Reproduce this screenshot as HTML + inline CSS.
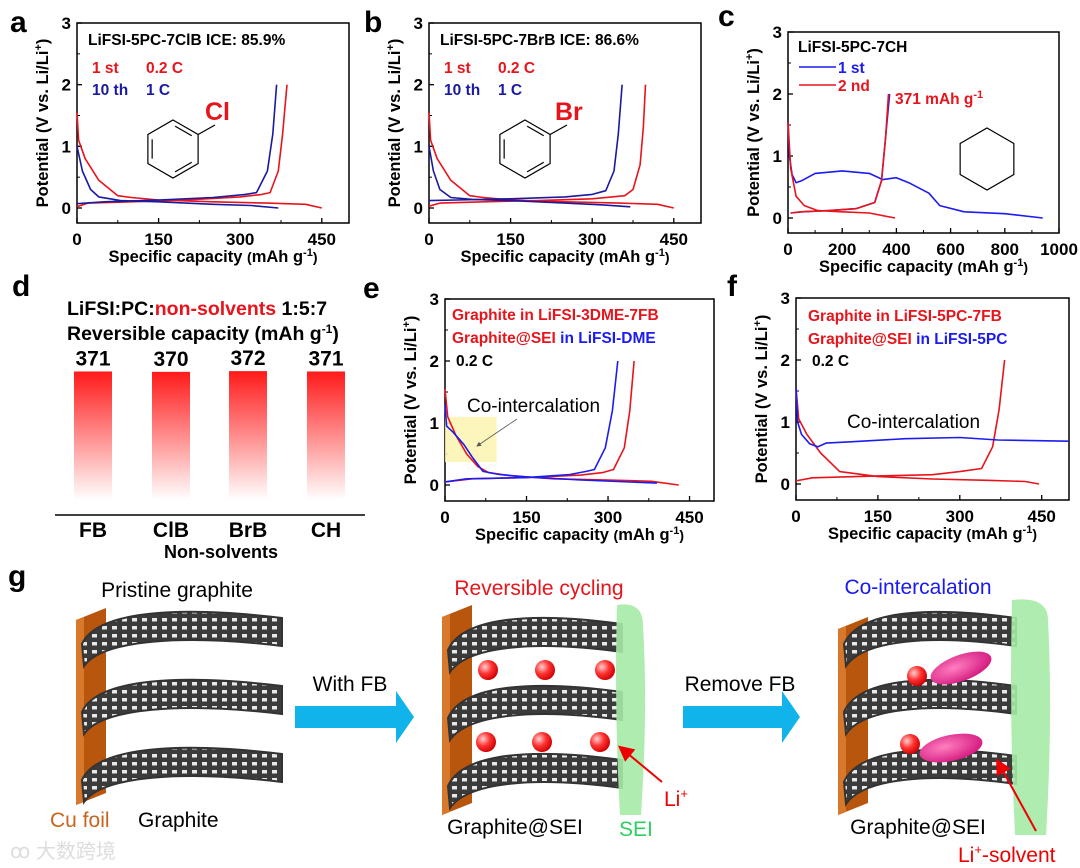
<!DOCTYPE html>
<html><head><meta charset="utf-8">
<style>
html,body{margin:0;padding:0;background:#fff;}
svg{display:block;font-family:"Liberation Sans","Noto Sans CJK SC",sans-serif;}
.tk{font-size:17px;font-weight:bold;fill:#000;}
.al{font-size:16.5px;font-weight:bold;fill:#000;}
.lg{font-size:15.5px;font-weight:bold;}
.pl{font-size:30px;font-weight:bold;fill:#000;}
.gt{font-family:"Liberation Sans Narrow","Liberation Sans",sans-serif;font-size:21px;}
</style></head>
<body>
<svg id="fig" width="1080" height="868" viewBox="0 0 1080 868" xmlns="http://www.w3.org/2000/svg">
<defs>
<pattern id="hex" width="10" height="8" patternUnits="userSpaceOnUse">
<rect width="10" height="8" fill="#3b3b3b"/>
<rect x="2" y="2" width="5" height="3.5" fill="#e8e8e8"/>
</pattern>
<linearGradient id="barg" x1="0" y1="0" x2="0" y2="1">
<stop offset="0" stop-color="#ff1a1a"/><stop offset="1" stop-color="#ffffff"/>
</linearGradient>
<radialGradient id="ball" cx="0.35" cy="0.35" r="0.7">
<stop offset="0" stop-color="#ffd0d0"/><stop offset="0.5" stop-color="#f33"/><stop offset="1" stop-color="#c00"/>
</radialGradient>
<radialGradient id="pink" cx="0.4" cy="0.4" r="0.7">
<stop offset="0" stop-color="#ff7fc0"/><stop offset="1" stop-color="#d0107a"/>
</radialGradient>
<marker id="ah" markerWidth="8" markerHeight="8" refX="6" refY="4" orient="auto"><path d="M0,0 L8,4 L0,8 Z" fill="#e00"/></marker>
<marker id="ahg" markerWidth="6" markerHeight="6" refX="5" refY="3" orient="auto"><path d="M0,0 L6,3 L0,6 Z" fill="#555"/></marker>
</defs>
<g id="plots"></g>
<g id="schem"></g>
</svg>
<script>
// ---- data: panel a ----
const aRedDisX=[0,3,15,40,75,100,150,250,350,420,450];
const aRedDisY=[1.55,1.1,0.8,0.45,0.2,0.17,0.13,0.1,0.08,0.06,0.0];
const aRedChX=[0,20,100,200,300,340,355,370,378,386];
const aRedChY=[0.02,0.08,0.1,0.13,0.18,0.22,0.25,0.6,1.2,2.0];
const aBluDisX=[0,10,25,40,80,150,250,320,370];
const aBluDisY=[1.0,0.6,0.3,0.18,0.12,0.1,0.06,0.04,0.0];
const aBluChX=[0,50,150,250,310,330,350,360,367];
const aBluChY=[0.07,0.1,0.13,0.17,0.22,0.25,0.6,1.2,2.0];
// ---- panel b ----
const bRedDisX=[0,3,15,40,75,100,150,250,350,420,450];
const bRedDisY=[1.55,1.1,0.8,0.45,0.2,0.17,0.13,0.1,0.08,0.06,0.0];
const bRedChX=[0,20,100,200,300,360,375,388,394,398];
const bRedChY=[0.03,0.08,0.1,0.12,0.15,0.2,0.3,0.7,1.3,2.0];
const bBluDisX=[0,8,20,40,80,150,250,320,370];
const bBluDisY=[1.0,0.6,0.3,0.17,0.14,0.12,0.08,0.05,0.02];
const bBluChX=[0,50,150,250,300,325,340,348,355];
const bBluChY=[0.12,0.13,0.15,0.18,0.22,0.28,0.6,1.2,2.0];
// ---- panel c ----
const cBluX=[0,5,15,30,50,100,200,300,350,400,450,520,560,650,800,940];
const cBluY=[1.55,1.0,0.7,0.57,0.6,0.72,0.76,0.72,0.62,0.65,0.56,0.4,0.2,0.1,0.07,0.0];
const cBluChX=[10,50,150,250,320,345,360,375];
const cBluChY=[0.08,0.1,0.12,0.15,0.25,0.6,1.3,2.0];
const cRedDisX=[0,10,30,60,110,200,300,395];
const cRedDisY=[1.55,0.8,0.35,0.2,0.12,0.1,0.08,0.0];
const cRedChX=[10,50,150,250,320,345,360,371];
const cRedChY=[0.08,0.1,0.12,0.15,0.25,0.6,1.3,2.0];
// ---- panel d ----
const dCats=["FB","ClB","BrB","CH"];
const dVals=[371,370,372,371];
// ---- panel e ----
const eRedDisX=[0,5,20,40,60,80,120,200,300,380,430];
const eRedDisY=[1.55,1.1,0.8,0.5,0.3,0.2,0.15,0.1,0.08,0.06,0.0];
const eRedChX=[0,50,150,250,290,310,330,340,348];
const eRedChY=[0.05,0.1,0.12,0.16,0.2,0.25,0.6,1.2,2.0];
const eBluDisX=[0,3,15,35,50,70,100,150,250,390];
const eBluDisY=[1.3,0.95,0.85,0.65,0.45,0.22,0.17,0.13,0.08,0.03];
const eBluChX=[0,40,150,230,260,275,295,308,318];
const eBluChY=[0.05,0.1,0.12,0.17,0.22,0.25,0.6,1.2,2.0];
// ---- panel f ----
const fRedDisX=[0,5,20,45,80,150,250,350,420,445];
const fRedDisY=[1.55,1.05,0.8,0.5,0.2,0.12,0.08,0.06,0.04,0.0];
const fRedChX=[0,30,150,250,300,340,360,372,382];
const fRedChY=[0.05,0.1,0.13,0.15,0.2,0.25,0.6,1.2,2.0];
const fBluX=[0,3,10,25,40,55,100,200,300,370,500];
const fBluY=[1.55,1.0,0.8,0.65,0.6,0.66,0.68,0.73,0.75,0.71,0.69];
const yTicks=[0,1,2,3];
const xTicks450=[0,150,300,450];
const xTicks1000=[0,200,400,600,800,1000];

const NS="http://www.w3.org/2000/svg";
const root=document.getElementById('plots');
function mk(tag,attrs,parent,text){const e=document.createElementNS(NS,tag);for(const k in attrs)e.setAttribute(k,attrs[k]);if(text!==undefined)e.textContent=text;(parent||root).appendChild(e);return e;}

function panel(name,P,xt,minorStep){
  const g=mk('g',{});
  
  
  P.sx=v=>P.l+(v-P.xmin)/(P.xmax-P.xmin)*(P.r-P.l);
  P.sy=v=>P.y0-v*(P.y0-P.t)/3;
  const fr=mk('rect',{x:P.l,y:P.t,width:P.r-P.l,height:P.b-P.t,fill:'none',stroke:'#000','stroke-width':1.5},g);
  
  
  for(const v of yTicks){const y=P.sy(v);mk('line',{x1:P.l,x2:P.l+5,y1:y,y2:y,stroke:'#000','stroke-width':1.3},g);
    const t=mk('text',{x:P.l-6,y:y+6,'text-anchor':'end',class:'tk'},g,String(v));
    
    }
  for(let v=0.5;v<3;v+=1){const y=P.sy(v);mk('line',{x1:P.l,x2:P.l+3,y1:y,y2:y,stroke:'#000','stroke-width':1},g);}
  for(const v of xt){const x=P.sx(v);mk('line',{x1:x,x2:x,y1:P.b,y2:P.b-5,stroke:'#000','stroke-width':1.3},g);
    const t=mk('text',{x:x,y:P.b+22,'text-anchor':'middle',class:'tk'},g,String(v));
    
    }
  for(let v=minorStep;v<P.xmax;v+=minorStep*2){const x=P.sx(v);mk('line',{x1:x,x2:x,y1:P.b,y2:P.b-3,stroke:'#000','stroke-width':1},g);}
  const xl=mk('text',{x:(P.l+P.r)/2,y:P.b+39,'text-anchor':'middle',class:'al'},g);
  xl.innerHTML='Specific capacity <tspan font-size="14">(</tspan>mAh g<tspan dy="-6" font-size="11">-1</tspan><tspan dy="6" font-size="14">)</tspan>';
  
  
  const cy=(P.t+P.b)/2, cx=P.l-29;
  const yl=mk('text',{x:cx,y:cy,'text-anchor':'middle',class:'al',transform:`rotate(-90 ${cx} ${cy})`},g);
  yl.innerHTML='Potential (V vs. Li/Li<tspan dy="-6" font-size="11">+</tspan><tspan dy="6">)</tspan>';
  
  
  P.g=g;return P;
}
function series(P,xs,ys,color,name){
  const pts=xs.map((x,i)=>P.sx(x).toFixed(1)+','+P.sy(ys[i]).toFixed(1)).join(' ');
  const pl=mk('polyline',{points:pts,fill:'none',stroke:color,'stroke-width':1.6,'stroke-linejoin':'round'},P.g);
  
  
}
function txt(x,y,s,cls,fill,name,extra){const t=mk('text',Object.assign({x:x,y:y,class:cls,fill:fill},extra||{}),root,s);
  
  return t;}
const RED='#e8141c', BLU='#1a1aa0', BLU2='#1c1cf0';

// panel a
const A=panel('panel-a-chart',{l:77,r:349,t:23,y0:208,b:223,xmin:0,xmax:500},xTicks450,75);
series(A,aRedDisX,aRedDisY,RED,'a-1st-discharge');series(A,aRedChX,aRedChY,RED,'a-1st-charge');
series(A,aBluDisX,aBluDisY,BLU,'a-10th-discharge');series(A,aBluChX,aBluChY,BLU,'a-10th-charge');
// panel b
const B=panel('panel-b-chart',{l:429,r:701,t:23,y0:208,b:223,xmin:0,xmax:500},xTicks450,75);
series(B,bRedDisX,bRedDisY,RED,'b-1st-discharge');series(B,bRedChX,bRedChY,RED,'b-1st-charge');
series(B,bBluDisX,bBluDisY,BLU,'b-10th-discharge');series(B,bBluChX,bBluChY,BLU,'b-10th-charge');
// panel c
const C=panel('panel-c-chart',{l:788,r:1059,t:32,y0:218,b:233,xmin:0,xmax:1000},xTicks1000,100);
series(C,cBluX,cBluY,BLU2,'c-1st-discharge');series(C,cBluChX,cBluChY,BLU2,'c-1st-charge');
series(C,cRedDisX,cRedDisY,RED,'c-2nd-discharge');series(C,cRedChX,cRedChY,RED,'c-2nd-charge');
// panel e
const E=panel('panel-e-chart',{l:445,r:714,t:299,y0:485,b:501,xmin:0,xmax:495},xTicks450,75);
const box=mk('rect',{x:E.sx(0),y:E.sy(1.1),width:E.sx(95)-E.sx(0),height:E.sy(0.37)-E.sy(1.1),fill:'#fbf5b0',opacity:0.85},E.g);


series(E,eRedDisX,eRedDisY,RED,'e-fb-discharge');series(E,eRedChX,eRedChY,RED,'e-fb-charge');
series(E,eBluDisX,eBluDisY,BLU2,'e-dme-discharge');series(E,eBluChX,eBluChY,BLU2,'e-dme-charge');
// panel f
const F=panel('panel-f-chart',{l:796,r:1069,t:298,y0:484,b:500,xmin:0,xmax:500},xTicks450,75);
series(F,fRedDisX,fRedDisY,RED,'f-fb-discharge');series(F,fRedChX,fRedChY,RED,'f-fb-charge');
series(F,fBluX,fBluY,BLU2,'f-pc-curve');

// annotations a, b
txt(88,45,'LiFSI-5PC-7ClB    ICE:  85.9%','lg','#000','a-title',{'xml:space':'preserve','font-size':'16.5'});
txt(92,73,'1 st','lg',RED,'a-legend-1st',{'font-size':'17'});txt(146,73,'0.2 C','lg',RED,'a-legend-rate1',{'font-size':'17'});
txt(92,95,'10 th','lg',BLU,'a-legend-10th',{'font-size':'17'});txt(146,95,'1 C','lg',BLU,'a-legend-rate2',{'font-size':'17'});
txt(205,120,'Cl','',RED,'a-cl-label',{'font-size':'25','font-weight':'bold'});
txt(440,45,'LiFSI-5PC-7BrB    ICE:  86.6%','lg','#000','b-title',{'xml:space':'preserve','font-size':'16.5'});
txt(444,73,'1 st','lg',RED,'b-legend-1st',{'font-size':'17'});txt(498,73,'0.2 C','lg',RED,'b-legend-rate1',{'font-size':'17'});
txt(444,95,'10 th','lg',BLU,'b-legend-10th',{'font-size':'17'});txt(498,95,'1 C','lg',BLU,'b-legend-rate2',{'font-size':'17'});
txt(555,120,'Br','',RED,'b-br-label',{'font-size':'25','font-weight':'bold'});
function ring(cx,cy,r,bondEnd,dbl,name){
  const g=mk('g',{fill:'none',stroke:'#000','stroke-width':1.2});
  
  
  const p=[];for(let i=0;i<6;i++){const a=Math.PI/180*(-90+60*i);p.push([cx+r*Math.cos(a),cy+r*Math.sin(a)]);}
  mk('polygon',{points:p.map(q=>q.join(',')).join(' ')},g);
  if(dbl){[[0,1],[2,3],[4,5]].forEach(([i,j])=>{const ix=p[i][0]+(cx-p[i][0])*0.17,iy=p[i][1]+(cy-p[i][1])*0.17,jx=p[j][0]+(cx-p[j][0])*0.17,jy=p[j][1]+(cy-p[j][1])*0.17;
    mk('line',{x1:ix+(jx-ix)*0.1,y1:iy+(jy-iy)*0.1,x2:ix+(jx-ix)*0.9,y2:iy+(jy-iy)*0.9},g);});}
  if(bondEnd)mk('line',{x1:p[1][0],y1:p[1][1],x2:bondEnd[0],y2:bondEnd[1]},g);
}
ring(173,149,29,[215,125],true,'chlorobenzene-structure');
ring(525,149,29,[567,125],true,'bromobenzene-structure');
ring(987,159,31,null,false,'cyclohexane-structure');
// c legend
txt(798,52,'LiFSI-5PC-7CH','lg','#000','c-title',{'font-size':'16.5'});
const l1=mk('line',{x1:799,x2:836,y1:67,y2:67,stroke:BLU2,'stroke-width':1.5});
const l2=mk('line',{x1:799,x2:836,y1:85,y2:85,stroke:RED,'stroke-width':1.5});
txt(838,73,'1 st','lg',BLU2,'c-legend-1st',{'font-size':'17'});txt(838,91,'2 nd','lg',RED,'c-legend-2nd',{'font-size':'17'});
const cap=txt(895,104,'','lg',RED,'c-capacity-label',{'font-size':'16.5'});cap.innerHTML='371 mAh g<tspan dy="-6" font-size="11">-1</tspan>';
// e annotations
txt(452,320,'Graphite in LiFSI-3DME-7FB','lg',RED,'e-legend-fb',{'font-size':'16.5'});
const e2=txt(452,343,'','lg',RED,'e-legend-dme',{'font-size':'16.5'});e2.innerHTML='Graphite@SEI <tspan fill="'+BLU2+'">in LiFSI-DME</tspan>';
txt(456,366,'0.2 C','lg','#000','e-rate',{'font-size':'16.5'});
txt(467,412,'Co-intercalation','',"#000",'e-co-intercalation-label',{'font-size':'19'});
const ea=mk('line',{x1:517,y1:419,x2:477,y2:446,stroke:'#555','stroke-width':0.8,'marker-end':'url(#ahg)'});
// f annotations
txt(808,321,'Graphite in LiFSI-5PC-7FB','lg',RED,'f-legend-fb',{'font-size':'16.5'});
const f2=txt(808,344,'','lg',RED,'f-legend-pc',{'font-size':'16.5'});f2.innerHTML='Graphite@SEI <tspan fill="'+BLU2+'">in LiFSI-5PC</tspan>';
txt(812,366,'0.2 C','lg','#000','f-rate',{'font-size':'16.5'});
txt(847,428,'Co-intercalation','',"#000",'f-co-intercalation-label',{'font-size':'19'});

// panel d bars
const dBase=508, dK=0.368;
const dX=[74,152,229,307];
const dg=mk('g',{});
const dt=txt(67,315,'','',"#000",'d-title-ratio',{'font-size':'19.5','font-weight':'bold','xml:space':'preserve'});
dt.innerHTML='LiFSI:PC:<tspan fill="'+RED+'">non-solvents</tspan>    1:5:7';
const dt2=txt(67,340,'','',"#000",'d-title-capacity',{'font-size':'19.5','font-weight':'bold'});
dt2.innerHTML='Reversible capacity (mAh g<tspan dy="-7" font-size="12">-1</tspan><tspan dy="7">)</tspan>';
dCats.forEach((c,i)=>{
  const top=dBase-dVals[i]*dK;
  const r=mk('rect',{x:dX[i],y:top,width:38,height:dBase-top-8,fill:'url(#barg)'},dg);
  
  
  const v=mk('text',{x:dX[i]+19,y:top-6,'text-anchor':'middle','font-size':'21','font-weight':'bold'},dg,String(dVals[i]));
  
  
  const cl=mk('text',{x:dX[i]+19,y:537,'text-anchor':'middle','font-size':'21','font-weight':'bold'},dg,c);
  
  
});
const bl=mk('line',{x1:55,x2:365,y1:515,y2:515,stroke:'#000','stroke-width':1.5},dg);
txt(221,558,'Non-solvents','',"#000",'d-x-axis-title',{'font-size':'18','font-weight':'bold','text-anchor':'middle'});

// panel letters
[['a',10,32],['b',364,32],['c',718,26],['d',12,296],['e',363,298],['f',727,296],['g',8,586]].forEach(([s,x,y])=>{txt(x,y,s,'pl','#000','panel-letter-'+s);});

// ---- schematic g ----
const S=document.getElementById('schem');
function sk(tag,attrs,name,text){const e=mk(tag,attrs,S,text);return e;}
function cu(x0,y0,y1,name){sk('path',{d:`M${x0},${y0+12} L${x0+30},${y0} L${x0+30},${y1-12} L${x0},${y1} Z`,fill:'#b9560e'},name);
  sk('path',{d:`M${x0},${y0+12} L${x0+8},${y0+9} L${x0+8},${y1-3} L${x0},${y1} Z`,fill:'#d8782a'},name+'-edge');}
function sheet(x0,x1,yc,name){const m=(x0+x1)/2;
  sk('path',{d:`M${x0},${yc+12} C${x0+15},${yc-22} ${m},${yc-26} ${x1},${yc-14} L${x1},${yc+14} C${m},${yc+2} ${x0+20},${yc+8} ${x0+2},${yc+34} Z`,fill:'url(#hex)',stroke:'#333','stroke-width':2},name);}
function sei(x0,y0,y1,w,name){sk('path',{d:`M${x0},${y0} Q${x0+w},${y0-4} ${x0+w},${y0+20} Q${x0+w+5},${(y0+y1)/2} ${x0+w-2},${y1} L${x0+3},${y1} Q${x0-3},${(y0+y1)/2} ${x0},${y0} Z`,fill:'#a6eaa6',opacity:0.9},name);}
function arrow(x0,x1,y,name){sk('path',{d:`M${x0},${y-11} L${x1-18},${y-11} L${x1-18},${y-26} L${x1},${y} L${x1-18},${y+26} L${x1-18},${y+11} L${x0},${y+11} Z`,fill:'#10b4ea'},name);}
function ball(x,y,name){sk('circle',{cx:x,cy:y,r:10,fill:'url(#ball)'},name);}
// left
cu(76,608,805,'cu-foil-left');
[632,700,768].forEach((y,i)=>sheet(82,282,y,'graphite-sheet-left-'+i));
sk('text',{x:177,y:597,'text-anchor':'middle',class:'gt',fill:'#000'},'pristine-graphite-title','Pristine graphite');
sk('text',{x:50,y:827,class:'gt',fill:'#c8641e'},'cu-foil-label','Cu foil');
sk('text',{x:138,y:827,class:'gt',fill:'#000'},'graphite-label','Graphite');
arrow(295,414,717,'with-fb-arrow');
sk('text',{x:350,y:691,'text-anchor':'middle',class:'gt',fill:'#000'},'with-fb-label','With FB');
// middle
cu(442,605,815,'cu-foil-middle');
[638,706,774].forEach((y,i)=>sheet(448,622,y,'graphite-sheet-middle-'+i));
sei(617,605,815,26,'sei-middle');
[[488,670],[545,670],[605,670],[486,742],[542,742],[600,742]].forEach((p,i)=>ball(p[0],p[1],'li-ion-'+i));
sk('line',{x1:662,y1:782,x2:621,y2:748,stroke:'#e00','stroke-width':2,'marker-end':'url(#ah)'},'li-arrow');
const lt=sk('text',{x:664,y:806,class:'gt',fill:'#e00'},'li-plus-label');lt.innerHTML='Li<tspan dy="-8" font-size="13">+</tspan>';
sk('text',{x:539,y:595,'text-anchor':'middle',class:'gt',fill:'#e8141c'},'reversible-cycling-title','Reversible cycling');
sk('text',{x:515,y:834,'text-anchor':'middle',class:'gt',fill:'#000'},'graphite-sei-label-middle','Graphite@SEI');
sk('text',{x:619,y:836,class:'gt',fill:'#2bd060'},'sei-label','SEI');
arrow(683,800,717,'remove-fb-arrow');
sk('text',{x:740,y:691,'text-anchor':'middle',class:'gt',fill:'#000'},'remove-fb-label','Remove FB');
// right
cu(838,617,815,'cu-foil-right');
[632,700,770].forEach((y,i)=>sheet(844,1016,y,'graphite-sheet-right-'+i));
sei(1012,600,835,36,'sei-right');
ball(917,676,'li-ion-right-1');ball(910,744,'li-ion-right-2');
sk('ellipse',{cx:961,cy:668,rx:32,ry:13,transform:'rotate(-20 961 668)',fill:'url(#pink)'},'solvent-molecule-1');
sk('ellipse',{cx:951,cy:748,rx:32,ry:13,transform:'rotate(-12 951 748)',fill:'url(#pink)'},'solvent-molecule-2');
sk('line',{x1:1036,y1:831,x2:998,y2:762,stroke:'#e00','stroke-width':2,'marker-end':'url(#ah)'},'li-solvent-arrow');
sk('text',{x:918,y:594,'text-anchor':'middle',class:'gt',fill:'#1a1af0'},'co-intercalation-title','Co-intercalation');
sk('text',{x:918,y:834,'text-anchor':'middle',class:'gt',fill:'#000'},'graphite-sei-label-right','Graphite@SEI');
const ls=sk('text',{x:958,y:862,class:'gt',fill:'#e00'},'li-solvent-label');ls.innerHTML='Li<tspan dy="-8" font-size="13">+</tspan><tspan dy="8">-solvent</tspan>';
sk('text',{x:10,y:858,'font-size':'20',fill:'#ddd'},'watermark','ꝏ 大数跨境');
</script>
</body></html>
